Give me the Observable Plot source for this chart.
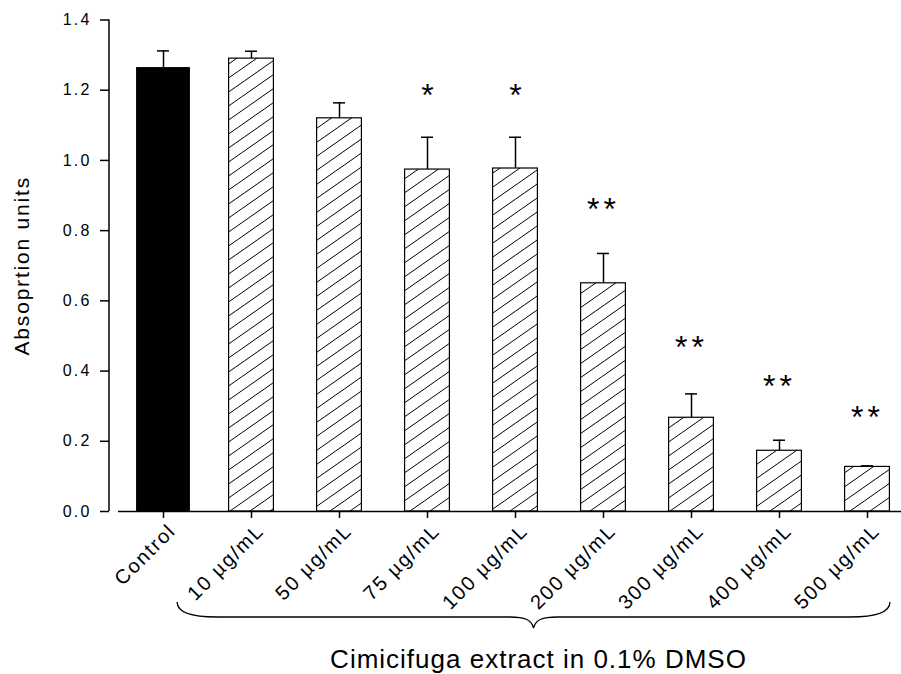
<!DOCTYPE html>
<html><head><meta charset="utf-8">
<script src="https://cdn.jsdelivr.net/npm/d3@7"></script>
<script src="https://cdn.jsdelivr.net/npm/@observablehq/plot@0.6"></script>
<style>
body{margin:0;background:#fff;}
#chart svg{display:block;}
</style></head>
<body>
<svg width="0" height="0" style="position:absolute">
<defs>
<pattern id="hatch" patternUnits="userSpaceOnUse" width="20" height="14">
<rect width="20" height="14" fill="#fff"/>
<path d="M-2,15.4 L22,-1.4 M-22,15.4 L2,-1.4 M18,15.4 L42,-1.4" stroke="#000" stroke-width="1" fill="none"/>
</pattern>
</defs></svg>
<div id="chart"></div>
<script>
const categories = ["Control", "10 µg/mL", "50 µg/mL", "75 µg/mL", "100 µg/mL", "200 µg/mL", "300 µg/mL", "400 µg/mL", "500 µg/mL"];
const means = [1.263, 1.290, 1.120, 0.974, 0.977, 0.650, 0.267, 0.173, 0.127];
const upperErrors = [0.049, 0.021, 0.044, 0.092, 0.089, 0.085, 0.068, 0.030, 0.003];
const significance = ["", "", "", "*", "*", "**", "**", "**", "**"];
const significanceY = [null, null, null, 1.197, 1.197, 0.872, 0.479, 0.368, 0.279];
const yTicks = [0, 0.2, 0.4, 0.6, 0.8, 1.0, 1.2, 1.4];
const yTitle = "Absoprtion units";
const xTitle = "Cimicifuga extract in 0.1% DMSO";

const rows = categories.map((c, i) => ({
  category: c, mean: means[i], top: means[i] + upperErrors[i],
  sig: significance[i], sigY: significanceY[i], control: i === 0
}));
const treated = rows.filter(d => !d.control);
const control = rows.filter(d => d.control);
const sigRows = rows.filter(d => d.sig);
const fmt = d3.format(".1f");

const W = 901, H = 674, ML = 109, MB = 163, MT = 19.5;

const plot = Plot.plot({
  width: W, height: H,
  marginLeft: ML, marginRight: 0, marginTop: MT, marginBottom: MB,
  style: {fontFamily: "'Liberation Sans', Arial, sans-serif", color: "#000", background: "#fff", overflow: "visible"},
  x: {domain: categories, range: [118, 912], padding: 0, axis: null},
  y: {domain: [0, 1.4], axis: null},
  marks: [
    Plot.barY(treated, {x: "category", y: "mean", fill: "url(#hatch)", stroke: "#000", strokeWidth: 1.2, insetLeft: 21.6, insetRight: 21.6}),
    Plot.barY(control, {x: "category", y: "mean", fill: "#000", stroke: "#000", insetLeft: 17.6, insetRight: 17.6}),
    Plot.ruleX(rows, {x: "category", y1: "mean", y2: "top", stroke: "#000", strokeWidth: 1.5}),
    Plot.tickY(rows, {x: "category", y: "top", stroke: "#000", strokeWidth: 1.5, insetLeft: 38, insetRight: 38}),
    Plot.text(sigRows, {x: "category", y: "sigY", text: "sig", fontSize: 32, dy: 4.5, fill: "#000"}),
    Plot.ruleY([0], {insetLeft: 9, stroke: "#000", strokeWidth: 1.5}),
    Plot.axisY({ticks: yTicks, tickFormat: fmt, tickSize: 9, tickPadding: 9, fontSize: 16, label: null, strokeWidth: 1.5}),
    Plot.axisX({tickSize: 7, tickFormat: () => "", label: null, strokeWidth: 1.5}),
    Plot.text(categories, {x: d => d, frameAnchor: "bottom", rotate: -45, textAnchor: "end", lineAnchor: "middle", dx: 9, dy: 16, fontSize: 20, fill: "#000"}),
    Plot.text([yTitle], {frameAnchor: "left", rotate: -90, textAnchor: "middle", lineAnchor: "bottom", dx: -81, fontSize: 21, fill: "#000"}),
    Plot.text([xTitle], {frameAnchor: "bottom", textAnchor: "middle", lineAnchor: "bottom", dx: 33, dy: 156, fontSize: 26, fill: "#000"})
  ]
});
document.getElementById("chart").appendChild(plot);

const svg = d3.select(plot);
const ys = plot.scale("y");
const xs = plot.scale("x");
const yPx = v => ys.range[0] + (v - ys.domain[0]) / (ys.domain[1] - ys.domain[0]) * (ys.range[1] - ys.range[0]);
const bx = d3.scaleBand(xs.domain, xs.range).paddingInner(xs.paddingInner || 0).paddingOuter(xs.paddingOuter || 0);

// y axis line
svg.append("line").attr("x1", ML).attr("x2", ML).attr("y1", yPx(1.4)).attr("y2", yPx(0))
  .attr("stroke", "#000").attr("stroke-width", 1.5);

// brace under treated groups
const step = bx.step();
const L = bx(categories[1]) - 0.33 * step;
const R = bx(categories[categories.length - 1]) + 0.75 * step;
const M = (L + R) / 2;
const y0 = yPx(0);
const yE = y0 + 91, yF = y0 + 106, yT = y0 + 117;
const p = d3.path();
p.moveTo(L, yE);
p.bezierCurveTo(L, yE + 10, L + 12, yF, L + 40, yF);
p.lineTo(M - 24, yF);
p.bezierCurveTo(M - 8, yF, M - 2, yF + 3, M, yT);
p.bezierCurveTo(M + 2, yF + 3, M + 8, yF, M + 24, yF);
p.lineTo(R - 40, yF);
p.bezierCurveTo(R - 12, yF, R, yE + 10, R, yE);
svg.append("path").attr("d", p.toString()).attr("fill", "none").attr("stroke", "#000").attr("stroke-width", 1.3);

// letter spacing to match the reference's wide text
const tickLabels = yTicks.map(fmt);
svg.selectAll("text").each(function () {
  const t = this.textContent;
  let ls = null;
  if (categories.includes(t)) ls = 1.8;
  else if (tickLabels.includes(t)) ls = 2.2;
  else if (t === yTitle) ls = 1.8;
  else if (t === xTitle) ls = 1.0;
  else if (t === "**") ls = 4;
  if (ls != null) this.style.letterSpacing = ls + "px";
});
</script>
</body></html>
